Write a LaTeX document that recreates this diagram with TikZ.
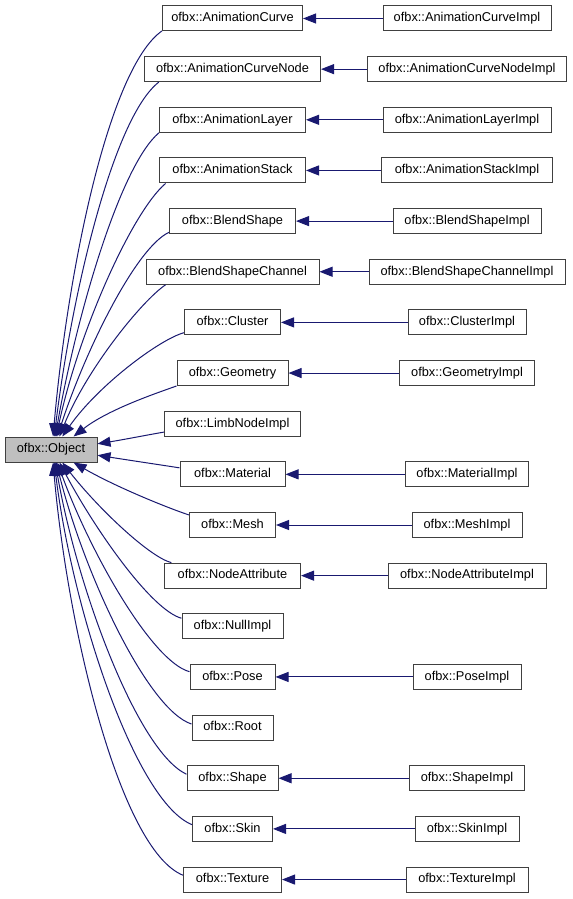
\documentclass[tikz,border=0pt]{standalone}
\usepackage{fontspec}
\setmainfont{Liberation Sans}
\usetikzlibrary{arrows.meta}
\definecolor{edgeblue}{HTML}{191970}
\definecolor{objgray}{HTML}{BFBFBF}
\definecolor{boxline}{HTML}{404040}

\begin{document}
\begin{tikzpicture}[x=0.75pt, y=0.75pt,
  cls/.style={draw=boxline, fill=white, line width=0.75pt, inner sep=0pt,
    minimum height=18.75pt, text height=7pt, text depth=2pt,
    font=\fontsize{9.6}{11}\selectfont},
  inh/.style={draw=edgeblue, line width=0.75pt, -{Triangle[length=9.75pt,width=7.5pt]}},
]
% 1 unit = 1 px of the 572 x 899 image
\useasboundingbox (0,0) rectangle (572,-899);

\node[cls, fill=objgray, minimum width=92*0.75pt] (obj) at (51,-449.5) {ofbx::Object};

% base classes: row / name / box width
\foreach \i/\labl/\w in {%
  1/AnimationCurve/140, 2/AnimationCurveNode/176, 3/AnimationLayer/146,
  4/AnimationStack/146, 5/BlendShape/126, 6/BlendShapeChannel/173,
  7/Cluster/96, 8/Geometry/111, 9/LimbNodeImpl/136, 10/Material/105,
  11/Mesh/86, 12/NodeAttribute/136, 13/NullImpl/101, 14/Pose/85,
  15/Root/81, 16/Shape/91, 17/Skin/80, 18/Texture/98%
} {
  \pgfmathsetmacro{\y}{-18.5 - (\i-1)*50.65}
  \node[cls, minimum width=\w*0.75pt] (c\i) at (232.5,\y) {ofbx::\labl};
}

% implementations: row / name / box width
\foreach \i/\labl/\w in {%
  1/AnimationCurveImpl/168, 2/AnimationCurveNodeImpl/199,
  3/AnimationLayerImpl/168, 4/AnimationStackImpl/171,
  5/BlendShapeImpl/148, 6/BlendShapeChannelImpl/196,
  7/ClusterImpl/118, 8/GeometryImpl/135, 10/MaterialImpl/123,
  11/MeshImpl/110, 12/NodeAttributeImpl/158, 14/PoseImpl/108,
  16/ShapeImpl/115, 17/SkinImpl/104, 18/TextureImpl/122%
} {
  \pgfmathsetmacro{\y}{-18.5 - (\i-1)*50.65}
  \node[cls, minimum width=\w*0.75pt] (d\i) at (467,\y) {ofbx::\labl};
  \draw[inh] (d\i) -- (c\i);
}

% edges into ofbx::Object: row / leave anchor / arrive anchor / out / in
\foreach \i/\sa/\ea/\o/\n in {%
  1/190/81/215/85, 2/190/76/218/83, 3/190/72/220/80, 4/191/68/220/78,
  5/190/64/205/72, 6/191/57/214/68, 7/192/49/195/55, 8/193/30/200/38,
  9/187/7/189/9, 10/173/-7/171/-9,
  11/167/-30/162/-30, 12/168/-49/165/-52, 13/171/-57/165/-62,
  14/173/-64/165/-70, 15/175/-68/162/-76, 16/175/-72/155/-80,
  17/174/-76/158/-83, 18/175/-81/158/-85%
} {
  \draw[inh] (c\i.\sa) to[out=\o, in=\n, out looseness=0.4] (obj.\ea);
}
\end{tikzpicture}
\end{document}
